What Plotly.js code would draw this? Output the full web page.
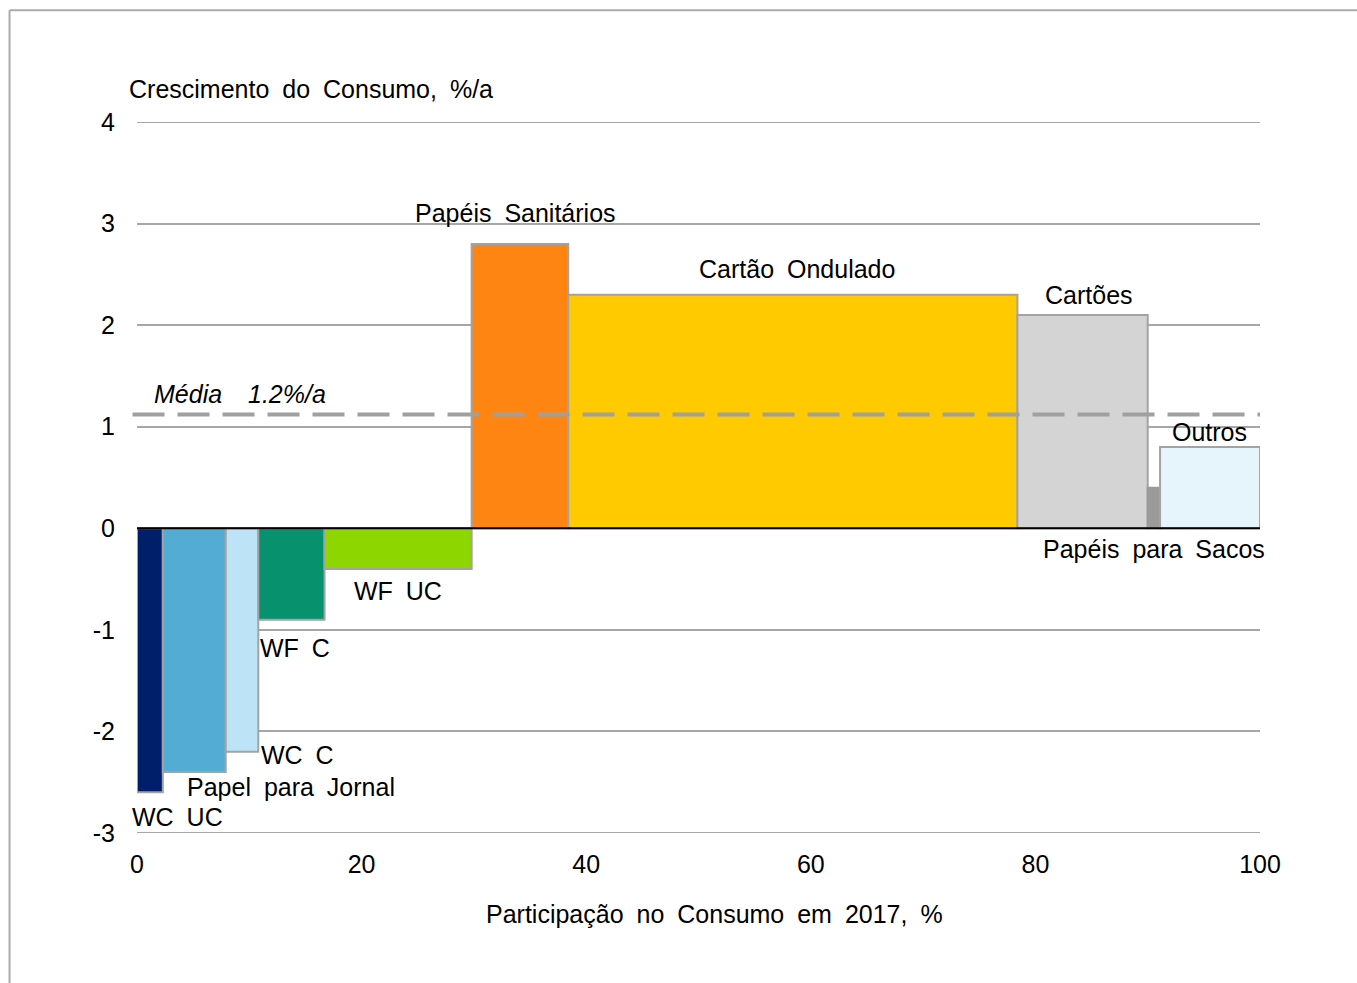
<!DOCTYPE html>
<html>
<head>
<meta charset="utf-8">
<script src="https://cdn.plot.ly/plotly-3.0.1.min.js"></script>
<style>
html,body{margin:0;padding:0;background:#fff;}
#chart{width:1357px;height:983px;}
svg text{word-spacing:6px;}
</style>
</head>
<body>
<div id="chart"></div>
<script>
// Data
const categories = ["WC UC","Papel para Jornal","WC C","WF C","WF UC","Papéis Sanitários","Cartão Ondulado","Cartões","Papéis para Sacos","Outros"];
const shares = [2.3, 5.6, 2.9, 5.9, 13.1, 8.6, 40.0, 11.6, 1.1, 8.9];   // % share of consumption 2017 (bar widths)
const growth = [-2.6, -2.4, -2.2, -0.9, -0.4, 2.8, 2.3, 2.1, 0.4, 0.8]; // consumption growth %/a
const colors = ["#001f6b","#52acd4","#bde3f6","#07926d","#8dd600","#ff8512","#ffcb00","#d4d4d4","#9a9a9a","#e6f4fc"];
const averageGrowth = 1.12;
const averageLabel = "Média  1.2%/a";
const xTicks = [0, 20, 40, 60, 80, 100];
const yTicks = [-3, -2, -1, 0, 1, 2, 3, 4];
// label anchor positions (data units) for each category
const labelX = [3.65, 13.7, 14.3, 14.1, 23.2, 33.7, 58.8, 84.8, 90.6, 95.5];
const labelY = [-2.84, -2.55, -2.23, -1.18, -0.62, 3.10, 2.55, 2.30, -0.20, 0.95];

// cumulative positions
const mids = [];
let acc = 0;
for (let i = 0; i < shares.length; i++) { mids.push(acc + shares[i] / 2); acc += shares[i]; }

const font = "Liberation Sans, Arial, sans-serif";
const fs = 25;

const trace = {
  type: "bar",
  x: mids,
  y: growth,
  width: shares,
  marker: {
    color: colors,
    line: {color: categories.map((c,i)=> i===8 ? "#9a9a9a" : "#a3a3a3"), width: 2}
  },
  hoverinfo: "skip",
  showlegend: false
};

const annotations = categories.map((c, i) => ({
  x: labelX[i], y: labelY[i], xref: "x", yref: "y",
  text: c, showarrow: false,
  font: {family: font, size: fs, color: "#000"},
  xanchor: "center", yanchor: "middle"
}));
annotations.push({
  x: 9.2, y: 1.32, xref: "x", yref: "y", text: "<i>" + averageLabel + "</i>",
  showarrow: false, font: {family: font, size: fs, color: "#000"}, xanchor: "center", yanchor: "middle"
});
annotations.push({
  x: -0.009, y: 1.046, xref: "paper", yref: "paper", text: "Crescimento do Consumo, %/a",
  showarrow: false, font: {family: font, size: fs, color: "#000"}, xanchor: "left", yanchor: "middle"
});
annotations.push({
  x: 0.514, y: -0.114, xref: "paper", yref: "paper", text: "Participação no Consumo em 2017, %",
  showarrow: false, font: {family: font, size: fs, color: "#000"}, xanchor: "center", yanchor: "middle"
});

// gridlines at range edges (Plotly omits them)
const edgeGrid = [yTicks[0], yTicks[yTicks.length - 1]].map(v => ({
  type: "line", xref: "x", yref: "y", x0: 0, x1: 100, y0: v, y1: v,
  line: {color: "#a6a6a6", width: 2}, layer: "below"
}));

const layout = {
  width: 1357, height: 983,
  margin: {l: 137, r: 97, t: 122, b: 150},
  paper_bgcolor: "#fff", plot_bgcolor: "#fff",
  font: {family: font, size: fs, color: "#000"},
  bargap: 0,
  xaxis: {
    range: [0, 100], tickvals: xTicks, ticktext: xTicks.map(String),
    showgrid: false, zeroline: false, showline: false,
    ticks: "outside", ticklen: 9, tickcolor: "rgba(0,0,0,0)",
    tickfont: {family: font, size: fs, color: "#000"}, fixedrange: true
  },
  yaxis: {
    range: [-3, 4], tickvals: yTicks, ticktext: yTicks.map(String),
    showgrid: true, gridcolor: "#a6a6a6", gridwidth: 2,
    zeroline: false, showline: false,
    ticks: "outside", ticklen: 16, tickcolor: "rgba(0,0,0,0)",
    tickfont: {family: font, size: fs, color: "#000"}, fixedrange: true
  },
  shapes: edgeGrid.concat([
    {type: "line", xref: "x", yref: "y", x0: 0, x1: 100, y0: 0, y1: 0, line: {color: "#000", width: 2}, layer: "above"},
    {type: "line", xref: "paper", yref: "y", x0: -0.004, x1: 1, y0: averageGrowth, y1: averageGrowth,
     line: {color: "#a0a0a0", width: 4, dash: "32px,13px"}, layer: "above"},
    {type: "line", xref: "paper", yref: "paper", x0: -0.1135, x1: 1.2, y0: 1.157, y1: 1.157, line: {color: "#ababab", width: 2}},
    {type: "line", xref: "paper", yref: "paper", x0: -0.1135, x1: -0.1135, y0: 1.157, y1: -0.3, line: {color: "#ababab", width: 2}}
  ]),
  annotations: annotations
};

Plotly.newPlot("chart", [trace], layout, {displayModeBar: false, staticPlot: true});
</script>
</body>
</html>
